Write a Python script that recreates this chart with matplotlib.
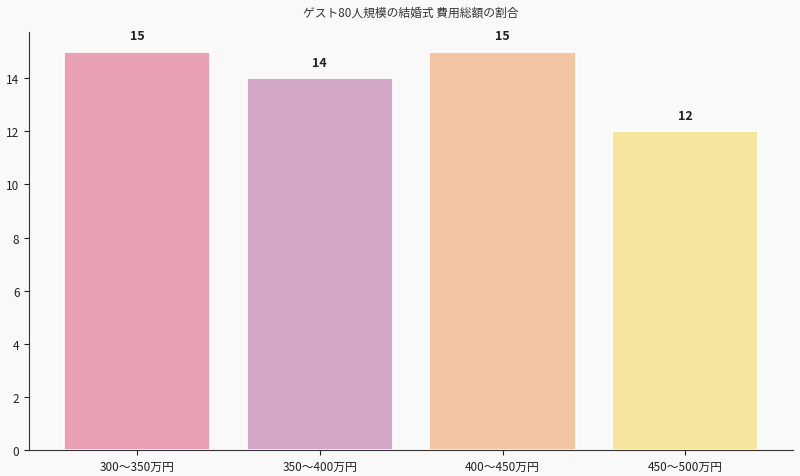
import matplotlib
matplotlib.use("Agg")
import matplotlib.pyplot as plt

plt.rcParams['font.family'] = ['Noto Sans CJK JP', 'DejaVu Sans']

categories = ["300〜350万円", "350〜400万円", "400〜450万円", "450〜500万円"]
counts = [15, 14, 15, 12]
colors = ["#e8a1b4", "#d4a9c8", "#f4c5a4", "#f6e59f"]

fig = plt.figure(figsize=(8, 4.77), dpi=100, facecolor="#f9f9f9")
ax = fig.add_axes([0.0365, 0.055, 0.955, 0.876])
ax.set_facecolor("#f9f9f9")

bars = ax.bar(categories, counts, width=0.8, color=colors, edgecolor="white", linewidth=1.2)
for b, v in zip(bars, counts):
    ax.annotate(str(v), (b.get_x() + b.get_width() / 2, v), xytext=(0, 7),
                textcoords="offset points", ha="center", va="bottom",
                fontsize=9, fontweight="bold", color="#222222")

ax.set_title("ゲスト80人規模の結婚式 費用総額の割合", fontsize=8.5, color="#333333", pad=12)
ax.spines["top"].set_visible(False)
ax.spines["right"].set_visible(False)
ax.spines["left"].set_color("#333333")
ax.spines["bottom"].set_color("#333333")
ax.tick_params(labelsize=8.5, colors="#222222")

fig.savefig("out.png", dpi=100, facecolor=fig.get_facecolor())
